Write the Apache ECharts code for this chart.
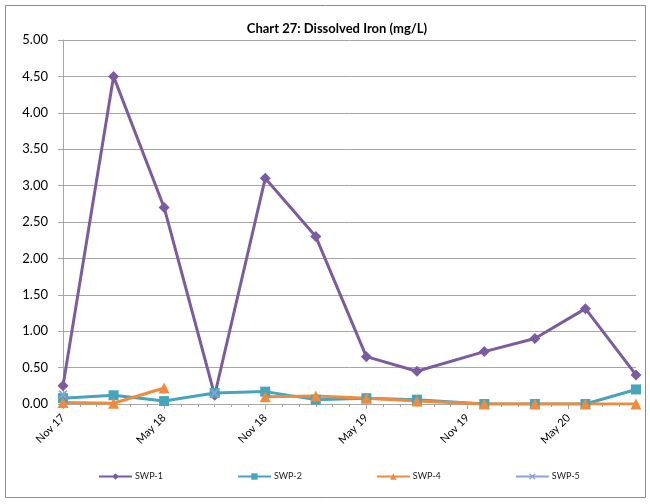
<!DOCTYPE html>
<html>
<head>
<meta charset="utf-8">
<script src="https://cdn.jsdelivr.net/npm/echarts@6/dist/echarts.min.js"></script>
<style>
  html, body { margin: 0; padding: 0; background: #fff; }
  #chart { width: 650px; height: 504px; }
</style>
</head>
<body>
<div id="chart"></div>
<script>
// Sampling dates (year-month) and dissolved iron results, mg/L
const sampleDates = ['2017-11', '2018-02', '2018-05', '2018-08', '2018-11', '2019-02',
                     '2019-05', '2019-08', '2019-12', '2020-03', '2020-06', '2020-09'];
const swp1 = [0.25, 4.50, 2.70, 0.12, 3.10, 2.30, 0.65, 0.45, 0.72, 0.90, 1.31, 0.40];
const swp2 = [0.08, 0.12, 0.04, 0.15, 0.17, 0.06, 0.08, 0.06, 0.00, 0.00, 0.00, 0.20];
const swp4 = [0.02, 0.01, 0.22, null, 0.10, 0.11, 0.08, 0.04, 0.00, 0.00, 0.00, 0.00];
const swp5 = [0.13, null, null, 0.15, null, null, null, null, null, null, null, null];
const seriesNames = ['SWP-1', 'SWP-2', 'SWP-4', 'SWP-5'];
const yTicks = { min: 0, max: 5, step: 0.5 };

const monthNames = ['Jan', 'Feb', 'Mar', 'Apr', 'May', 'Jun', 'Jul', 'Aug', 'Sep', 'Oct', 'Nov', 'Dec'];
const baseYear = 2017, baseMonth = 10; // Nov 2017 = month 0

function monthIndex(s) {
  const [y, m] = s.split('-').map(Number);
  return (y - baseYear) * 12 + (m - 1 - baseMonth);
}
function monthLabel(i) {
  const total = baseYear * 12 + baseMonth + i;
  const y = Math.floor(total / 12), m = total % 12;
  return monthNames[m] + ' ' + String(y % 100).padStart(2, '0');
}
function pairs(vals) {
  return sampleDates.map((d, i) => [monthIndex(d), vals[i]]);
}

const xMax = monthIndex(sampleDates[sampleDates.length - 1]);
const gridColor = '#a6a6a6';
const font = 'Lato, "Liberation Sans", sans-serif';
const xMark = 'path://M0,1.4L1.4,0L5,3.6L8.6,0L10,1.4L6.4,5L10,8.6L8.6,10L5,6.4L1.4,10L0,8.6L3.6,5Z';

const chart = echarts.init(document.getElementById('chart'), null, { renderer: 'canvas' });
chart.setOption({
  animation: false,
  backgroundColor: '#fff',
  textStyle: { fontFamily: font },
  title: {
    text: 'Chart 27: Dissolved Iron (mg/L)',
    left: 332, top: 17, textAlign: 'center',
    textStyle: { fontFamily: font, fontSize: 13, fontWeight: 'bold', color: '#000' }
  },
  graphic: [{
    type: 'rect', silent: true,
    shape: { x: 5.5, y: 5.5, width: 640, height: 492 },
    style: { fill: 'none', stroke: '#8c8c8c', lineWidth: 1 }
  }],
  grid: { left: 63, right: 14, top: 40, bottom: 100 },
  legend: {
    data: seriesNames,
    left: 93, top: 467,
    itemWidth: 33, itemHeight: 8, itemGap: 74,
    textStyle: { fontFamily: font, fontSize: 9, color: '#222', padding: [0, 0, 0, -2] }
  },
  xAxis: {
    type: 'value', min: 0, max: xMax, interval: 6,
    axisLine: { show: true, lineStyle: { color: gridColor, width: 1 } },
    axisTick: { show: true, length: 5, lineStyle: { color: gridColor } },
    minorTick: { show: true, splitNumber: 6, length: 3, lineStyle: { color: gridColor } },
    splitLine: { show: false },
    axisLabel: {
      rotate: 45, margin: 12, fontSize: 11, color: '#000', fontFamily: font,
      formatter: v => monthLabel(Math.round(v)),
      showMaxLabel: false
    }
  },
  yAxis: {
    type: 'value', min: yTicks.min, max: yTicks.max, interval: yTicks.step,
    axisLine: { show: true, lineStyle: { color: gridColor, width: 1 } },
    axisTick: { show: true, length: 5, lineStyle: { color: gridColor } },
    splitLine: { show: true, lineStyle: { color: gridColor, width: 1 } },
    axisLabel: {
      margin: 15, fontSize: 13, color: '#000', fontFamily: font,
      formatter: v => v.toFixed(2)
    }
  },
  series: [
    {
      name: 'SWP-1', type: 'line', data: pairs(swp1),
      symbol: 'diamond', symbolSize: 11,
      lineStyle: { width: 3, color: '#7b5c9f' },
      itemStyle: { color: '#7b5c9f' }
    },
    {
      name: 'SWP-2', type: 'line', data: pairs(swp2),
      symbol: 'rect', symbolSize: 10,
      lineStyle: { width: 3, color: '#48a4bb' },
      itemStyle: { color: '#48a4bb' }
    },
    {
      name: 'SWP-4', type: 'line', data: pairs(swp4),
      symbol: 'triangle', symbolSize: 11,
      lineStyle: { width: 3, color: '#f08b3e' },
      itemStyle: { color: '#f08b3e' }
    },
    {
      name: 'SWP-5', type: 'line', data: pairs(swp5),
      symbol: xMark, symbolSize: 9,
      lineStyle: { width: 3, color: '#8aa3d4' },
      itemStyle: { color: '#8aa3d4' }
    }
  ]
});
</script>
</body>
</html>
